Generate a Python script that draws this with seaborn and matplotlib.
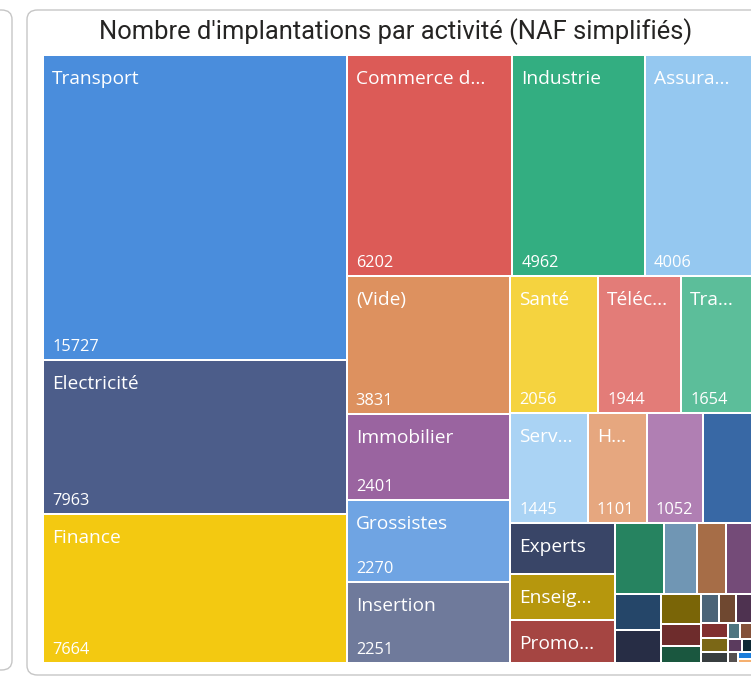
import math
import matplotlib
matplotlib.use('Agg')
import matplotlib.pyplot as plt
from matplotlib.patches import Rectangle, FancyBboxPatch
import seaborn as sns

# tile labels as shown (Power BI truncates them), empty where nothing is drawn
labels = ["Transport", "Electricité", "Finance", "Commerce d...", "Industrie", "Assura...",
          "(Vide)", "Immobilier", "Grossistes", "Insertion", "Santé", "Téléc...", "Tra...",
          "Serv...", "H...", "", "", "Experts", "Enseig...", "Promo...",
          "", "", "", "", "", "", "", "", "", "", "", "", "", "", "", "", "", "", "", "", "", ""]
values = [15727, 7963, 7664, 6202, 4962, 4006,
          3831, 2401, 2270, 2251, 2056, 1944, 1654,
          1445, 1101, 1052, 905, 900, 830, 760,
          590, 400, 345, 310, 285, 255, 205, 150, 118, 84, 82, 80, 68, 64, 50,
          34, 32, 31, 24, 19, 15, 10]
colors = ["#4A8DDC", "#4C5D8A", "#F3C911", "#DC5B57", "#33AE81", "#95C8F0",
          "#DD915F", "#9A64A0", "#6FA4E3", "#6F7A9B", "#F5D33F", "#E37C78", "#5CBE9A",
          "#AAD3F4", "#E6A77F", "#B07FB3", "#3868A5", "#394567", "#B6970D", "#A54542",
          "#268360", "#7096B4", "#A66D47", "#744B78", "#254669", "#272D45", "#7A6507",
          "#6E2C2C", "#1A573F", "#4B6478", "#6F4830", "#4E3250", "#81302F", "#7B6716",
          "#373D3F", "#4F7580", "#84523A", "#5B3B5E", "#0F2A35", "#555050", "#1C7EDB",
          "#F5B070"]
title = "Nombre d'implantations par activité (NAF simplifiés)"

PHI = (1 + math.sqrt(5)) / 2


def squarify(vals, x0, y0, x1, y1, ratio=PHI):
    # same idea as d3.treemapSquarify (golden ratio), which Power BI uses
    out = []
    n = len(vals)
    i0 = i1 = 0
    value = float(sum(vals))
    while i0 < n:
        dx, dy = x1 - x0, y1 - y0
        sum_v = vals[i1]
        i1 += 1
        min_v = max_v = sum_v
        alpha = max(dy / dx, dx / dy) / (value * ratio)
        beta = sum_v * sum_v * alpha
        min_ratio = max(max_v / beta, beta / min_v)
        while i1 < n:
            v = vals[i1]
            s = sum_v + v
            mn, mx = min(min_v, v), max(max_v, v)
            beta = s * s * alpha
            new_ratio = max(mx / beta, beta / mn)
            if new_ratio > min_ratio:
                break
            sum_v, min_v, max_v, min_ratio = s, mn, mx, new_ratio
            i1 += 1
        row = vals[i0:i1]
        if dx < dy:
            h = dy * sum_v / value if i1 < n else dy
            xx = x0
            for v in row:
                w = dx * v / sum_v
                out.append((xx, y0, w, h))
                xx += w
            y0 += h
        else:
            w = dx * sum_v / value if i1 < n else dx
            yy = y0
            for v in row:
                h = dy * v / sum_v
                out.append((x0, yy, w, h))
                yy += h
            x0 += w
        value -= sum_v
        i0 = i1
    return out


sns.set_style("white")
plt.rcParams['font.family'] = ['Open Sans', 'DejaVu Sans']

W, H = 751, 677
fig = plt.figure(figsize=(W / 100, H / 100), dpi=100)
fig.patch.set_facecolor("white")

# cards (the one on the left is cut by the screenshot)
for (cx, cy0, cw, cy1) in [(-40, 10, 52, 670), (27, 10, 760, 675)]:
    card = FancyBboxPatch((cx / W, 1 - cy1 / H), cw / W, (cy1 - cy0) / H,
                          boxstyle="round,pad=0,rounding_size=0.014",
                          transform=fig.transFigure, facecolor="white",
                          edgecolor="#C6C6C6", linewidth=1.0, zorder=-5)
    fig.patches.append(card)

tx0, ty0, tx1, ty1 = 43, 55, 752, 663
ax = fig.add_axes([tx0 / W, 1 - ty1 / H, (tx1 - tx0) / W, (ty1 - ty0) / H])
ax.set_xlim(0, tx1 - tx0)
ax.set_ylim(ty1 - ty0, 0)
ax.axis("off")

palette = sns.color_palette(colors)
rects = squarify(values, 0, 0, tx1 - tx0, ty1 - ty0)
gap = 1.0
for (x, y, w, h), lab, val, col in zip(rects, labels, values, palette):
    ax.add_patch(Rectangle((x + gap, y + gap), w - 2 * gap, h - 2 * gap,
                           facecolor=col, edgecolor="none"))
    if lab and w >= 50 and h >= 35:
        ax.text(x + 9, y + 29, lab, color="white", fontsize=13.8, va="baseline", ha="left")
    if w >= 50 and h >= 60:
        ax.text(x + 9, y + h - 9, str(val), color="white", fontsize=11.8,
                va="baseline", ha="left")

t = fig.text(396 / W, 1 - 32 / H, title, ha="center", va="center",
             color="#252423", fontsize=14, family=['Roboto', 'DejaVu Sans'])
fig.canvas.draw()
wpx = t.get_window_extent().width
t.set_fontsize(14 * 596 / wpx)

fig.savefig("out.png", dpi=100, facecolor="white")
